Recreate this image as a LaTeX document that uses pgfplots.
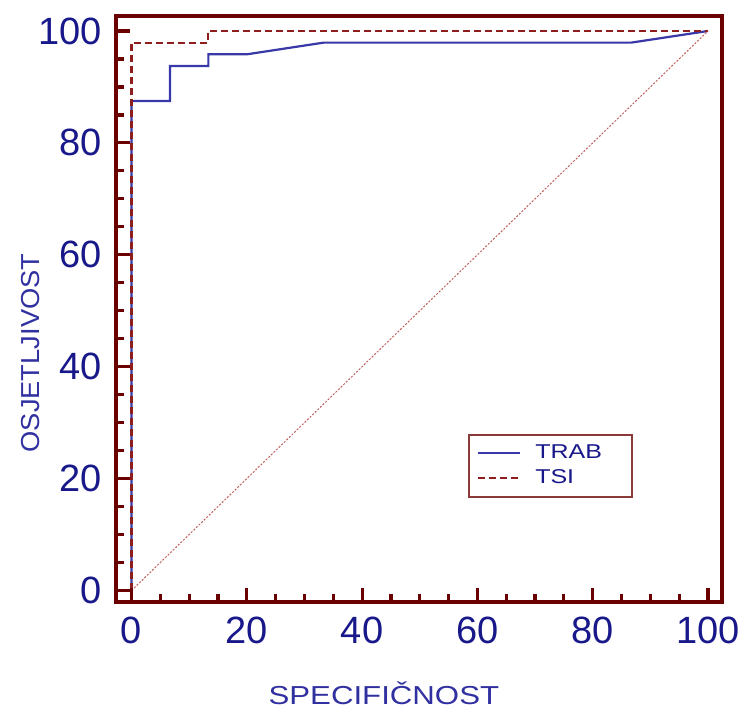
\documentclass[border=0pt]{standalone}
\usepackage{fontspec}
\setmainfont{Liberation Sans}
\usepackage{pgfplots}
\pgfplotsset{compat=1.18}
\usetikzlibrary{calc}
\definecolor{frame}{HTML}{6B0000}
\definecolor{ticklab}{HTML}{18188A}
\definecolor{labblue}{HTML}{3030A0}
\definecolor{trab}{HTML}{3838A8}
\definecolor{tsi}{HTML}{8E1E1E}
\definecolor{diag}{HTML}{C06060}
\definecolor{legframe}{HTML}{8B3A3A}

\begin{document}
\begin{tikzpicture}
\begin{axis}[
    name=ax,
    scale only axis,
    width=303pt, height=293pt,
    xmin=-2.69, xmax=102.43,
    ymin=-2.06, ymax=102.68,
    xtick={0,20,...,100}, ytick={0,20,...,100},
    xtick pos=bottom, ytick pos=left,
    minor tick num=3,
    tick align=inside,
    major tick length=7pt, minor tick length=4pt,
    every tick/.style={frame, line width=1.6pt},
    axis line style={frame, line width=2pt},
    axis on top,
    /pgf/number format/assume math mode=true,
    ticklabel style={font=\fontsize{19}{20}\selectfont, text=ticklab},
    xticklabel style={yshift=-4pt},
    yticklabel style={xshift=-3.5pt},
    xlabel={\scalebox{1.2}[1]{SPECIFIČNOST}},
    ylabel={\scalebox{1.05}[1]{OSJETLJIVOST}},
    label style={font=\fontsize{13}{14}\selectfont, text=labblue},
    xlabel style={at={($(rel axis cs:0.442,0)+(0,-45.5pt)$)}, anchor=center},
    ylabel style={at={($(rel axis cs:0,0.425)+(-42.5pt,0)$)}, anchor=center},
    legend style={at={(0.581,0.287)}, anchor=north west, draw=legframe,
        line width=1pt, inner xsep=4pt, inner ysep=3pt, row sep=0pt,
        font=\fontsize{10}{11}\selectfont, text=ticklab, cells={anchor=west}},
    legend image code/.code={\draw[#1] (0pt,0pt) -- (21pt,0pt);},
]
\addplot[trab, line width=1.1pt, mark=none] coordinates {
    (0,0) (0,87.5) (6.667,87.5) (6.667,93.75) (13.333,93.75) (13.333,95.83)
    (20,95.83) (33.333,97.92) (86.667,97.92) (100,100)};
\addlegendentry{\makebox[47.5pt][l]{\hspace{5pt}\scalebox{1.25}[1]{TRAB}}}
\addplot[tsi, line width=1.1pt, dash pattern=on 3.5pt off 2pt, mark=none] coordinates {
    (0,0) (0,97.92) (13.333,97.92) (13.333,100) (100,100)};
\addlegendentry{\makebox[47.5pt][l]{\hspace{5pt}\scalebox{1.25}[1]{TSI}}}
\addplot[diag, line width=0.5pt, dash pattern=on 1pt off 0.8pt, mark=none, forget plot]
    coordinates {(0,0) (100,100)};
\end{axis}
\pgfresetboundingbox
\path[use as bounding box] ([xshift=-58pt, yshift=-53.5pt]ax.south west)
    rectangle ([xshift=11.5pt, yshift=8pt]ax.north east);
\end{tikzpicture}
\end{document}
